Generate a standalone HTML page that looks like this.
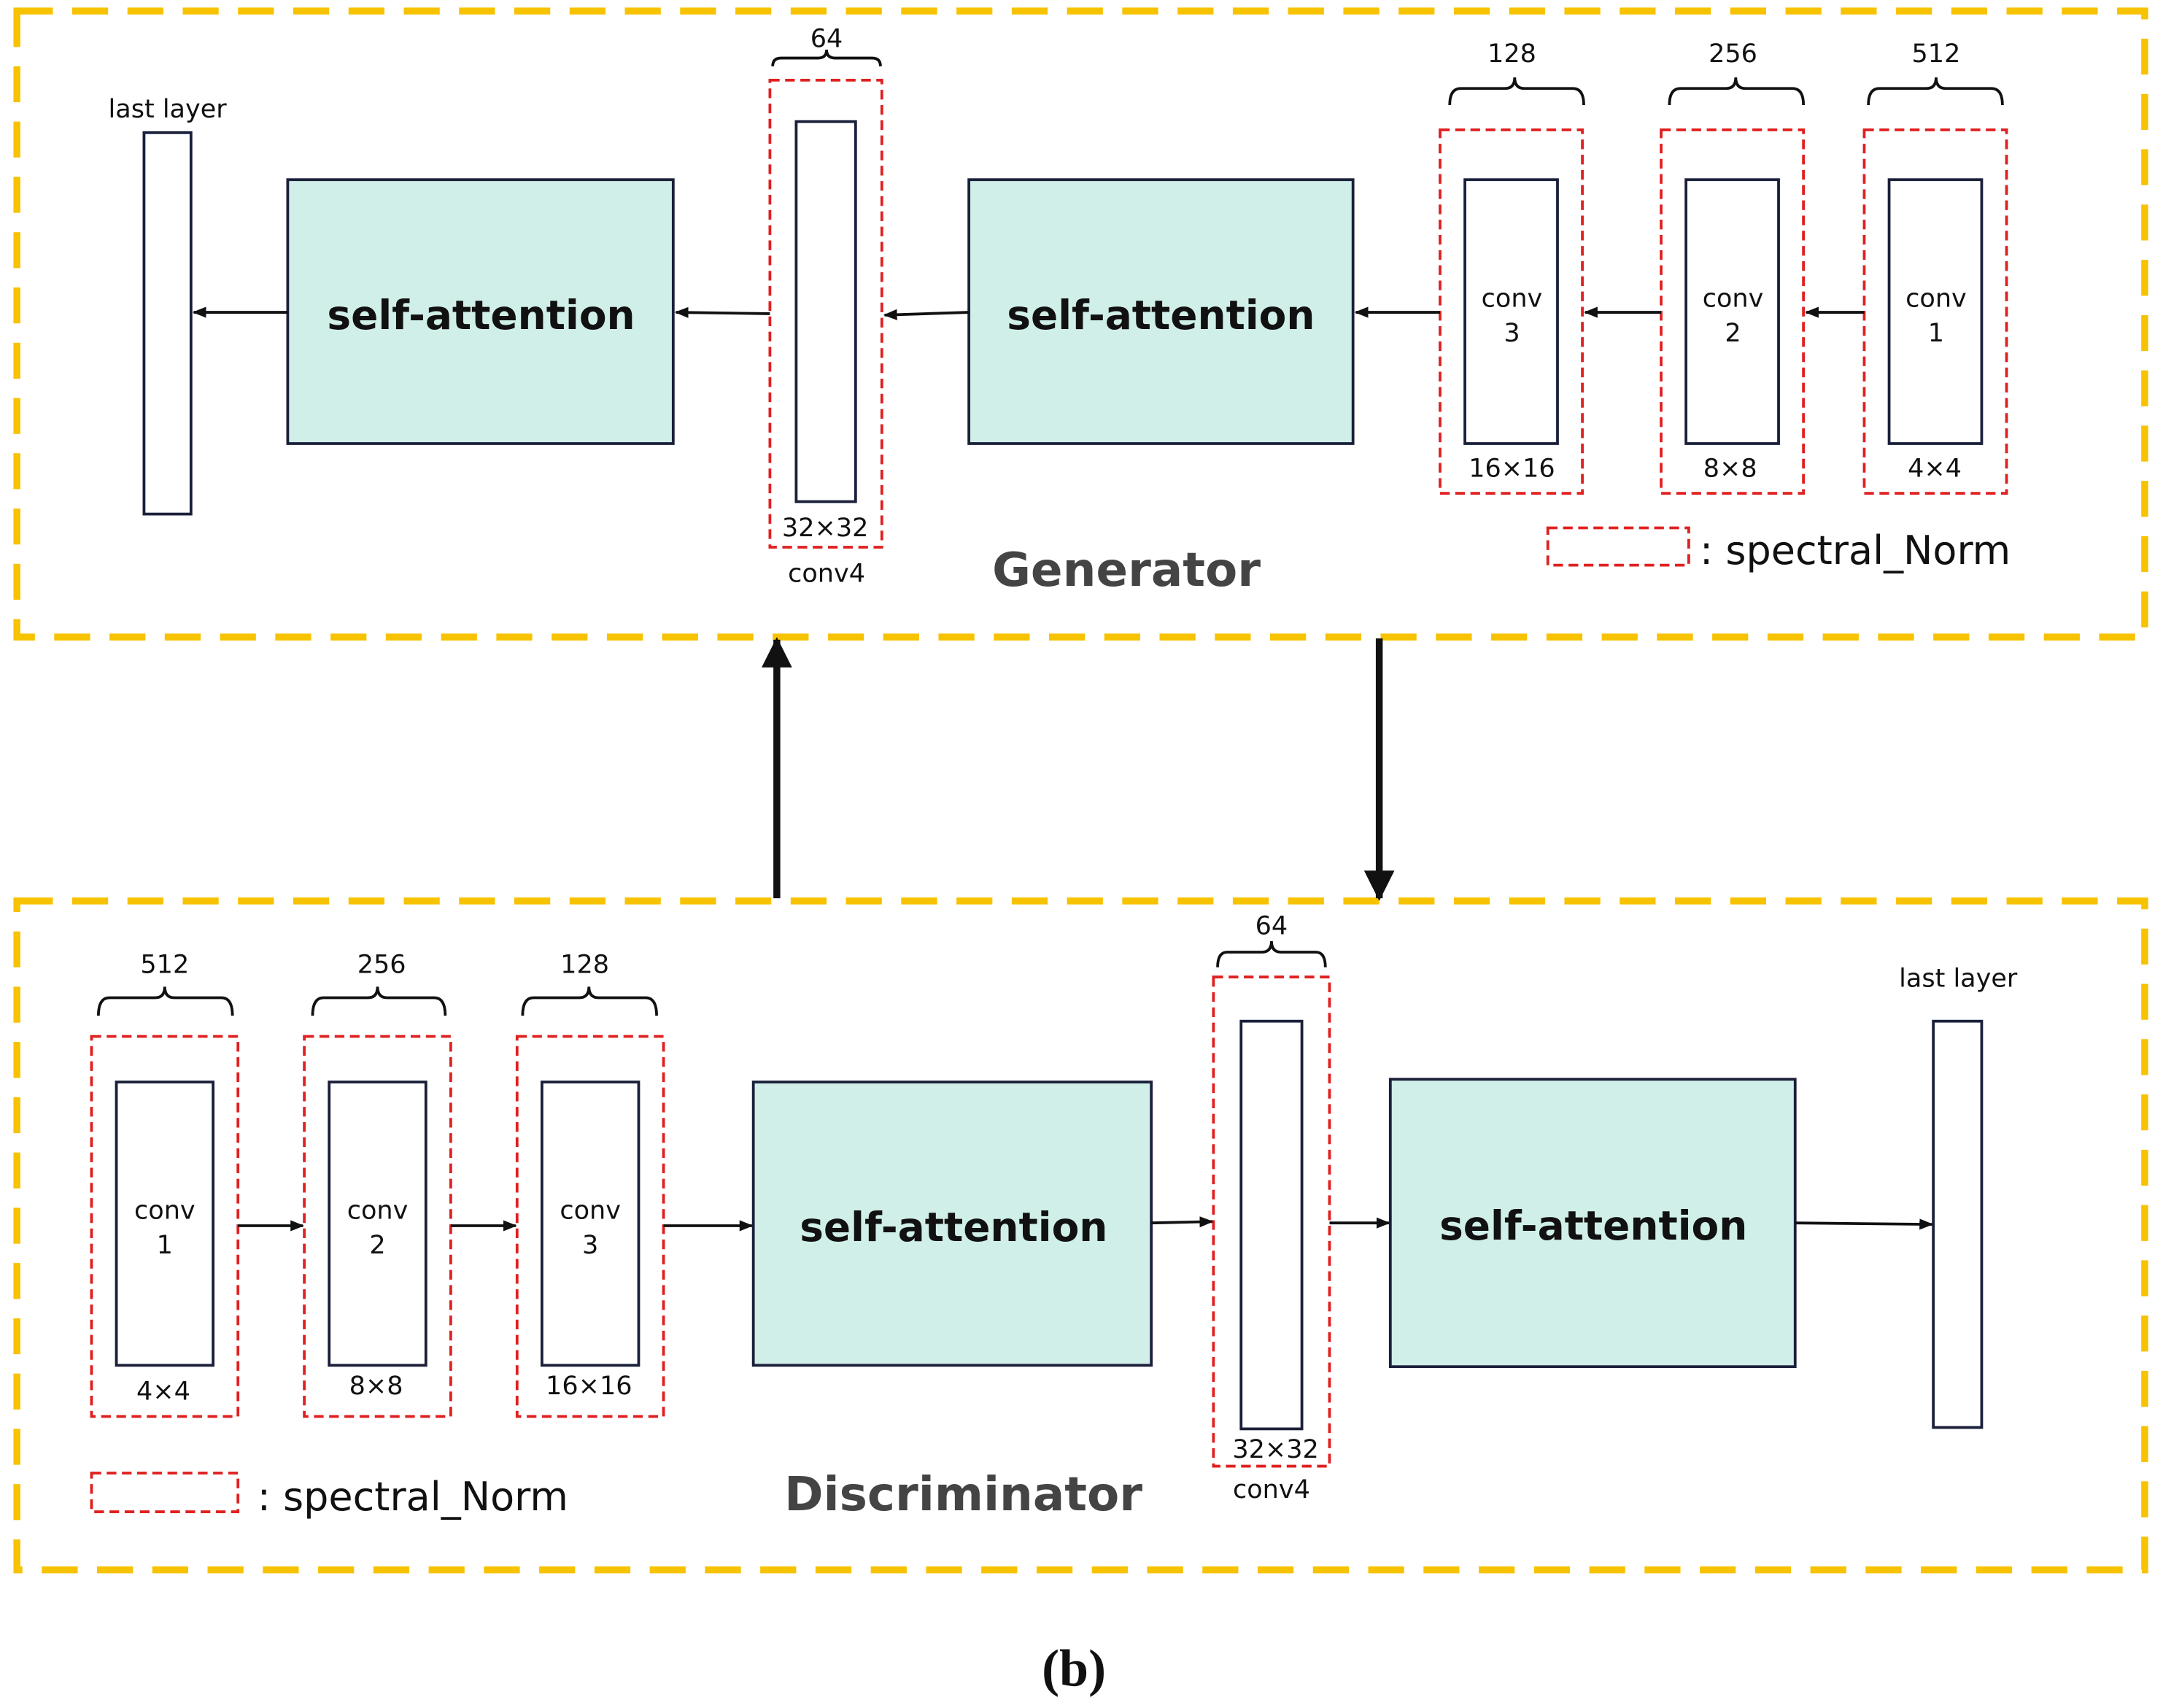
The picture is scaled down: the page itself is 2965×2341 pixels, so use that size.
<!DOCTYPE html>
<html><head><meta charset="utf-8">
<style>
html,body{margin:0;padding:0;background:#fff;}
svg{display:block;}
text{font-family:"DejaVu Sans","Liberation Sans",sans-serif;fill:#111;}
.sm{font-size:18.5px;text-anchor:middle;}
.sa{font-size:29px;font-weight:bold;text-anchor:middle;}
.lg{font-size:28.5px;}
.ttl{font-size:34px;font-weight:bold;text-anchor:middle;fill:#444;}
</style></head><body>
<svg width="2965" height="2341" viewBox="0 0 1565 1236" xmlns="http://www.w3.org/2000/svg">
<defs>
<marker id="ah" markerWidth="10" markerHeight="8" refX="9" refY="4" orient="auto" markerUnits="userSpaceOnUse" viewBox="0 0 10 8"><path d="M0,0 L10,4 L0,8 Z" fill="#111"/></marker>
<marker id="bh" markerWidth="22" markerHeight="22" refX="20" refY="11" orient="auto" markerUnits="userSpaceOnUse" viewBox="0 0 22 22"><path d="M0,0 L22,11 L0,22 Z" fill="#111"/></marker>
</defs>
<g fill="none" stroke="#F7C200" stroke-width="5" stroke-dasharray="26,14">
<rect x="12" y="8" width="1540" height="453"/>
<rect x="12" y="652" width="1540" height="484"/>
</g>
<g fill="none" stroke="#E02020" stroke-width="2" stroke-dasharray="7,4">
<rect x="557" y="58" width="81" height="338"/>
<rect x="1042" y="94" width="103" height="263"/>
<rect x="1202" y="94" width="103" height="263"/>
<rect x="1349" y="94" width="103" height="263"/>
<rect x="1120" y="382" width="102" height="27"/>
<rect x="66" y="750" width="106" height="275"/>
<rect x="220" y="750" width="106" height="275"/>
<rect x="374" y="750" width="106" height="275"/>
<rect x="878" y="707" width="84" height="354"/>
<rect x="66" y="1066" width="106" height="28"/>
</g>
<g stroke="#1a1f3a" stroke-width="2">
<rect x="104" y="96" width="34" height="276" fill="#fff"/>
<rect x="208" y="130" width="279" height="191" fill="#D0EFE8"/>
<rect x="576" y="88" width="43" height="275" fill="#fff"/>
<rect x="701" y="130" width="278" height="191" fill="#D0EFE8"/>
<rect x="1060" y="130" width="67" height="191" fill="#fff"/>
<rect x="1220" y="130" width="67" height="191" fill="#fff"/>
<rect x="1367" y="130" width="67" height="191" fill="#fff"/>
<rect x="84" y="783" width="70" height="205" fill="#fff"/>
<rect x="238" y="783" width="70" height="205" fill="#fff"/>
<rect x="392" y="783" width="70" height="205" fill="#fff"/>
<rect x="545" y="783" width="288" height="205" fill="#D0EFE8"/>
<rect x="898" y="739" width="44" height="295" fill="#fff"/>
<rect x="1006" y="781" width="293" height="208" fill="#D0EFE8"/>
<rect x="1399" y="739" width="35" height="294" fill="#fff"/>
</g>
<g fill="none" stroke="#111" stroke-width="2">
<path d="M559,48 Q559,42 565,42 L592,42 Q598,42 598,36 Q598,42 604,42 L631,42 Q637,42 637,48"/>
<path d="M1049,76 Q1049,64 1057,64 L1089,64 Q1096,64 1096,56 Q1096,64 1103,64 L1138,64 Q1146,64 1146,76"/>
<path d="M1208,76 Q1208,64 1216,64 L1249,64 Q1256,64 1256,56 Q1256,64 1263,64 L1297,64 Q1305,64 1305,76"/>
<path d="M1352,76 Q1352,64 1360,64 L1394,64 Q1401,64 1401,56 Q1401,64 1408,64 L1441,64 Q1449,64 1449,76"/>
<path d="M71,735 Q71,722 79,722 L112,722 Q119,722 119,714 Q119,722 126,722 L160,722 Q168,722 168,735"/>
<path d="M226,735 Q226,722 234,722 L266,722 Q273,722 273,714 Q273,722 280,722 L314,722 Q322,722 322,735"/>
<path d="M378,735 Q378,722 386,722 L419,722 Q426,722 426,714 Q426,722 433,722 L467,722 Q475,722 475,735"/>
<path d="M881,700 Q881,689 888,689 L913,689 Q920,689 920,681 Q920,689 927,689 L952,689 Q959,689 959,700"/>
</g>
<g stroke="#111" stroke-width="2" marker-end="url(#ah)">
<line x1="1349" y1="226" x2="1307" y2="226"/>
<line x1="1202" y1="226" x2="1147" y2="226"/>
<line x1="1042" y1="226" x2="981" y2="226"/>
<line x1="701" y1="226" x2="640" y2="228"/>
<line x1="557" y1="227" x2="489" y2="226"/>
<line x1="208" y1="226" x2="140" y2="226"/>
<line x1="172" y1="887" x2="219" y2="887"/>
<line x1="326" y1="887" x2="373" y2="887"/>
<line x1="480" y1="887" x2="544" y2="887"/>
<line x1="833" y1="885" x2="877" y2="884"/>
<line x1="962" y1="885" x2="1005" y2="885"/>
<line x1="1299" y1="885" x2="1398" y2="886"/>
</g>
<g stroke="#111" stroke-width="5" marker-end="url(#bh)">
<line x1="562" y1="650" x2="562" y2="463"/>
<line x1="998" y1="462" x2="998" y2="650"/>
</g>
<text class="sm" x="121" y="85">last layer</text>
<text class="sa" x="348" y="238">self-attention</text>
<text class="sm" x="598" y="34">64</text>
<text class="sm" x="597" y="388">32×32</text>
<text class="sm" x="598" y="421">conv4</text>
<text class="sa" x="840" y="238">self-attention</text>
<text class="sm" x="1094" y="45">128</text>
<text class="sm" x="1254" y="45">256</text>
<text class="sm" x="1401" y="45">512</text>
<text class="sm" x="1094" y="222">conv</text><text class="sm" x="1094" y="247">3</text>
<text class="sm" x="1254" y="222">conv</text><text class="sm" x="1254" y="247">2</text>
<text class="sm" x="1401" y="222">conv</text><text class="sm" x="1401" y="247">1</text>
<text class="sm" x="1094" y="345">16×16</text>
<text class="sm" x="1252" y="345">8×8</text>
<text class="sm" x="1400" y="345">4×4</text>
<text class="lg" x="1230" y="408">: spectral_Norm</text>
<text class="ttl" x="815" y="424">Generator</text>
<text class="sm" x="119" y="704">512</text>
<text class="sm" x="276" y="704">256</text>
<text class="sm" x="423" y="704">128</text>
<text class="sm" x="119" y="882">conv</text><text class="sm" x="119" y="907">1</text>
<text class="sm" x="273" y="882">conv</text><text class="sm" x="273" y="907">2</text>
<text class="sm" x="427" y="882">conv</text><text class="sm" x="427" y="907">3</text>
<text class="sm" x="118" y="1013">4×4</text>
<text class="sm" x="272" y="1009">8×8</text>
<text class="sm" x="426" y="1009">16×16</text>
<text class="sa" x="690" y="898">self-attention</text>
<text class="sm" x="920" y="676">64</text>
<text class="sm" x="923" y="1055">32×32</text>
<text class="sm" x="920" y="1084">conv4</text>
<text class="sa" x="1153" y="897">self-attention</text>
<text class="sm" x="1417" y="714">last layer</text>
<text class="lg" x="186" y="1093">: spectral_Norm</text>
<text class="ttl" x="697" y="1093">Discriminator</text>
<text x="777" y="1220" style="font-family:'Liberation Serif',serif;font-size:38px;font-weight:bold;text-anchor:middle;fill:#111">(b)</text>
</svg>
</body></html>
